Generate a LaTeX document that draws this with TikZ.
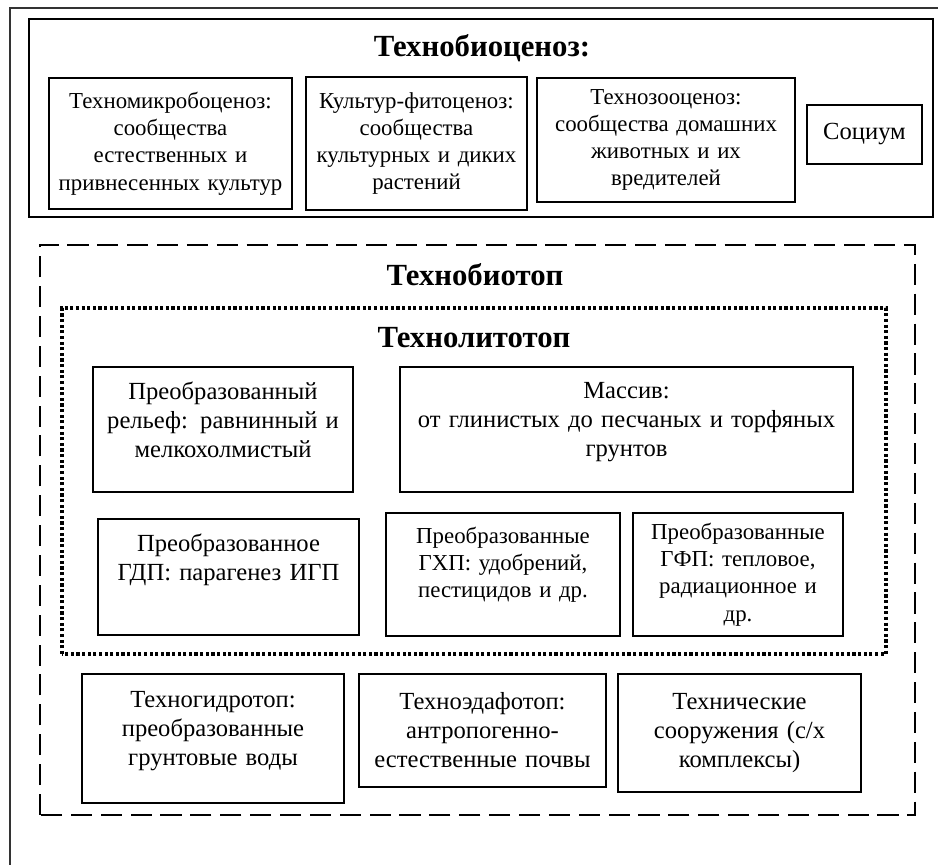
\documentclass[tikz,border=0pt]{standalone}
\usepackage{fontspec}
\setmainfont{Liberation Serif}

\begin{document}
\begin{tikzpicture}[
	box/.style={draw, line width=0.6pt, align=center, inner sep=2pt},
	title/.style={font=\fontsize{17.5}{20}\selectfont\bfseries},
	big/.style={font=\fontsize{14}{16.5}\selectfont},
	small/.style={font=\fontsize{13}{15.5}\selectfont}
]

	\useasboundingbox (0,0) rectangle (18.76,17.3);

	% outer frame
	\draw [line width=0.8pt, black!80] (0.2,0) -- (0.2,17.14) -- (18.76,17.14);

	% Technobiocenoz
	\draw [line width=1.2pt] (0.58,12.96) rectangle (18.66,16.92);
	\node[title] (tbc) at (9.64,16.34) {Технобиоценоз:};
	\node[box, small, minimum width=4.86cm, minimum height=2.62cm, text width=4.7cm]
	(mikro) at (3.41,14.43) {Техномикробоценоз:\\сообщества\\естественных и\\привнесенных культур};
	\node[box, small, minimum width=4.42cm, minimum height=2.66cm, text width=4.26cm]
	(fito) at (8.33,14.43) {Культур-фитоценоз:\\сообщества\\культурных и диких\\растений};
	\node[box, small, minimum width=5.16cm, minimum height=2.48cm, text width=5cm]
	(zoo) at (13.32,14.5) {Технозооценоз:\\сообщества домашних\\животных и их\\вредителей};
	\node[box, big, minimum width=2.3cm, minimum height=1.18cm, text width=2.14cm]
	(soc) at (17.29,14.61) {Социум};

	% Technobiotop
	\draw [line width=1.2pt, dash pattern=on 12pt off 5pt] (0.8,1.0) rectangle (18.3,12.4);
	\node[title] (tbt) at (9.5,11.8) {Технобиотоп};

	% Technolitotop
	\draw [line width=1.8pt, dash pattern=on 1.8pt off 1.4pt] (1.24,4.22) rectangle (17.72,11.14);
	\node[title] (tlt) at (9.48,10.54) {Технолитотоп};
	\node[box, big, minimum width=5.2cm, minimum height=2.5cm, text width=5.04cm, text depth=1.56cm]
	(relief) at (4.46,8.71) {Преобразованный\\рельеф: равнинный и\\мелкохолмистый};
	\node[box, big, minimum width=9.06cm, minimum height=2.5cm, text width=8.9cm, text depth=1.56cm]
	(massiv) at (12.53,8.71) {Массив:\\от глинистых до песчаных и торфяных\\грунтов};
	\node[box, big, minimum width=5.22cm, minimum height=2.32cm, text width=5.06cm, text depth=1.37cm]
	(gdp) at (4.57,5.76) {Преобразованное\\ГДП: парагенез ИГП};
	\node[box, small, minimum width=4.68cm, minimum height=2.46cm, text width=4.52cm, text depth=1.57cm]
	(ghp) at (10.06,5.81) {Преобразованные\\ГХП: удобрений,\\пестицидов и др.};
	\node[box, small, minimum width=4.2cm, minimum height=2.46cm, text width=4.04cm]
	(gfp) at (14.76,5.81) {Преобразованные\\ГФП: тепловое,\\радиационное и\\др.};

	\node[box, big, minimum width=5.24cm, minimum height=2.58cm, text width=5.08cm, text depth=1.56cm]
	(gidro) at (4.26,2.53) {Техногидротоп:\\преобразованные\\грунтовые воды};
	\node[box, big, minimum width=4.94cm, minimum height=2.26cm, text width=4.78cm]
	(edafo) at (9.65,2.69) {Техноэдафотоп:\\антропогенно-\\естественные почвы};
	\node[box, big, minimum width=4.86cm, minimum height=2.36cm, text width=4.7cm]
	(tehn) at (14.79,2.64) {Технические\\сооружения (с/х\\комплексы)};

\end{tikzpicture}
\end{document}
